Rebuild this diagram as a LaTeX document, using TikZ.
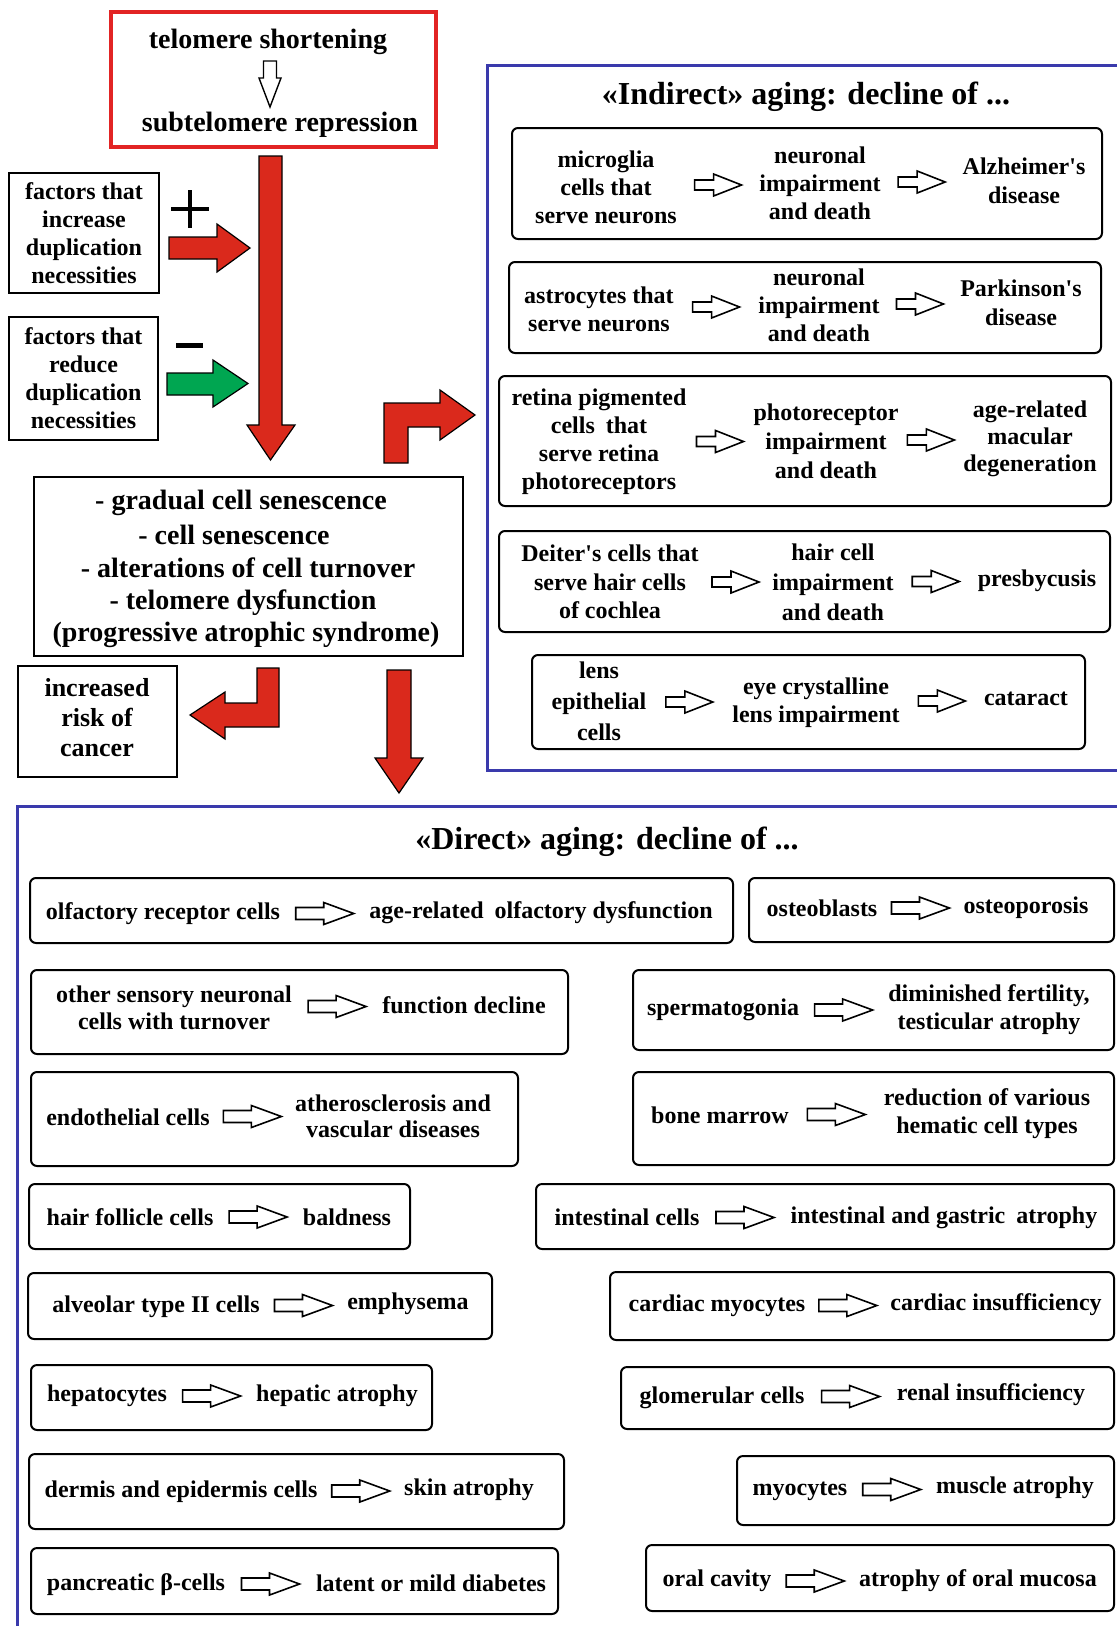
\documentclass[tikz,border=0pt]{standalone}
\usepackage{fontspec}
\setmainfont{Liberation Serif}
\usetikzlibrary{fit,calc}
\definecolor{arrred}{RGB}{218,41,28}
\definecolor{frred}{RGB}{226,36,36}
\definecolor{arrgreen}{RGB}{0,166,81}
\definecolor{frblue}{RGB}{58,58,172}
\begin{document}
\begin{tikzpicture}[x=1pt,y=-1pt,
  t24/.style={font=\bfseries\fontsize{24}{28}\selectfont, align=center, inner sep=0pt},
  t26/.style={font=\bfseries\fontsize{26}{30}\selectfont, align=center, inner sep=0pt},
  t28/.style={font=\bfseries\fontsize{28}{32}\selectfont, align=center, inner sep=0pt},
  ttl/.style={font=\bfseries\fontsize{32}{36}\selectfont, inner sep=0pt},
  rbox/.style={draw, line width=2pt, rounded corners=6pt, inner sep=0pt},
  sbox/.style={draw, line width=2pt, inner sep=0pt},
  blueframe/.style={draw=frblue, line width=3pt},
  block/.style={draw=black, line width=1.2pt, line join=miter},
  hollow/.style={draw=black, line width=1.6pt, fill=white, line join=miter},
  harrD/.pic={\path[hollow] (-29,-6) -- (-1,-6) -- (-1,-11) -- (29,0) -- (-1,11) -- (-1,6) -- (-29,6) -- cycle;},
  harrI/.pic={\path[hollow] (-23.5,-5) -- (-4.5,-5) -- (-4.5,-11) -- (23.5,0) -- (-4.5,11) -- (-4.5,5) -- (-23.5,5) -- cycle;},
]
\useasboundingbox (0,0) rectangle (1117,1626);
\fill[white] (0,0) rectangle (1117,1626);
\clip (0,0) rectangle (1117,1626);

% ---------- top box ----------
\node[draw=frred, line width=4pt, inner sep=0pt, fit={(111,12) (436,147)}] (top) {};
\node[t28] (ts) at (268,42) {telomere shortening};
\node[t28] (sr) at (280,125) {subtelomere repression};
\path[hollow, line width=1.4pt] (263.5,61) -- (276.5,61) -- (276.5,78) -- (281,78) -- (270,107) -- (259,78) -- (263.5,78) -- cycle;

% ---------- factor boxes ----------
\node[sbox, t24, minimum width=150pt, minimum height=120pt] (f1) at (84,233) {factors that\\increase\\duplication\\necessities};
\node[sbox, t24, minimum width=149pt, minimum height=123pt] (f2) at (83.5,378.5) {factors that\\reduce\\duplication\\necessities};
\draw[line width=4pt] (171,209) -- (209,209) (190,190) -- (190,228);
\draw[line width=5pt] (176,345) -- (203,345);

% ---------- block arrows ----------
\path[block, fill=arrred] (259,156) -- (282,156) -- (282,425) -- (295,425) -- (270.5,460) -- (247,425) -- (259,425) -- cycle;
\path[block, fill=arrred] (169,237) -- (217,237) -- (217,224) -- (250,248) -- (217,272) -- (217,259) -- (169,259) -- cycle;
\path[block, fill=arrgreen] (167,373) -- (213,373) -- (213,360) -- (248,383.5) -- (213,407) -- (213,395) -- (167,395) -- cycle;
\path[block, fill=arrred] (384,463) -- (384,403) -- (440,403) -- (440,390) -- (475,415) -- (440,440) -- (440,427) -- (408,427) -- (408,463) -- cycle;
\path[block, fill=arrred] (257,668) -- (279,668) -- (279,727) -- (225,727) -- (225,739) -- (190,715) -- (225,692) -- (225,703) -- (257,703) -- cycle;
\path[block, fill=arrred] (387,670) -- (411,670) -- (411,758) -- (423,758) -- (399,793) -- (375,758) -- (387,758) -- cycle;

% ---------- middle box ----------
\node[sbox, minimum width=429pt, minimum height=179pt] (mid) at (248.5,566.5) {};
\node[t28] (m1) at (241,503) {- gradual cell senescence};
\node[t28] (m2) at (234,535) {- cell senescence};
\node[t28] (m3) at (248,568) {- alterations of cell turnover};
\node[t28] (m4) at (243,603) {- telomere dysfunction};
\node[t28] (m5) at (246,635) {(progressive atrophic syndrome)};

% ---------- cancer box ----------
\node[sbox, minimum width=159pt, minimum height=111pt] (canc) at (97.5,721.5) {};
\node[t26] (canct) at (97,718) {increased\\risk of\\cancer};

% ---------- indirect frame ----------
\draw[blueframe] (487,65) rectangle (1140,770);
\node[ttl] (ind) at (806,97) {«Indirect» aging: decline of ...};

\node[rbox, fit={(512,128) (1102,239)}] (i1) {};
\node[t24] (i1a) at (606,187) {microglia\\cells that\\serve neurons};
\node[t24] (i1b) at (820,183) {neuronal\\impairment\\and death};
\node[t24, font=\bfseries\fontsize{24}{29}\selectfont] (i1c) at (1024,181) {Alzheimer\textquotesingle s\\disease};
\pic at ($(i1a.east)!0.5!(i1b.west)$) {harrI};
\pic at ($(i1b.east)!0.5!(i1c.west)$) {harrI};

\node[rbox, fit={(509,262) (1101,353)}] (i2) {};
\node[t24] (i2a) at (599,309) {astrocytes that\\serve neurons};
\node[t24] (i2b) at (819,305) {neuronal\\impairment\\and death};
\node[t24, font=\bfseries\fontsize{24}{29}\selectfont] (i2c) at (1021,303) {Parkinson\textquotesingle s\\disease};
\pic at ($(i2a.east)!0.5!(i2b.west)$) {harrI};
\pic at ($(i2b.east)!0.5!(i2c.west)$) {harrI};

\node[rbox, fit={(499,376) (1111,506)}] (i3) {};
\node[t24] (i3a) at (599,442) {retina pigmented\\cells\hspace{5pt} that\\serve retina\\photoreceptors};
\node[t24, font=\bfseries\fontsize{24}{29}\selectfont] (i3b) at (826,441) {photoreceptor\\impairment\\and death};
\node[t24, font=\bfseries\fontsize{24}{27}\selectfont] (i3c) at (1030,439) {age-related\\macular\\degeneration};
\pic at ($(i3a.east)!0.5!(i3b.west)$) {harrI};
\pic at ($(i3b.east)!0.5!(i3c.west)$) {harrI};

\node[rbox, fit={(499,531) (1110,632)}] (i4) {};
\node[t24, font=\bfseries\fontsize{24}{28.5}\selectfont] (i4a) at (610,582) {Deiter\textquotesingle s cells that\\serve hair cells\\of cochlea};
\node[t24, font=\bfseries\fontsize{24}{30}\selectfont] (i4b) at (833,582) {hair cell\\impairment\\and death};
\node[t24] (i4c) at (1037,581) {presbycusis};
\pic at ($(i4a.east)!0.5!(i4b.west)$) {harrI};
\pic at ($(i4b.east)!0.5!(i4c.west)$) {harrI};

\node[rbox, fit={(532,655) (1085,749)}] (i5) {};
\node[t24, font=\bfseries\fontsize{24}{31}\selectfont] (i5a) at (599,701) {lens\\epithelial\\cells};
\node[t24] (i5b) at (816,703) {eye crystalline\\lens impairment};
\node[t24] (i5c) at (1026,699) {cataract};
\pic at ($(i5a.east)!0.5!(i5b.west)$) {harrI};
\pic at ($(i5b.east)!0.5!(i5c.west)$) {harrI};

% ---------- direct frame ----------
\draw[blueframe] (17,806) rectangle (1140,1640);
\node[ttl] (dir) at (607,842) {«Direct» aging: decline of ...};

\node[rbox, fit={(30,878) (733,943)}] (d1) {};
\node[t24] (d1a) at (163,914) {olfactory receptor cells};
\node[t24] (d1b) at (541,913) {age-related\hspace{5pt} olfactory dysfunction};
\pic at ($(d1a.east)!0.5!(d1b.west)$) {harrD};

\node[rbox, fit={(749,878) (1114,942)}] (d2) {};
\node[t24] (d2a) at (822,908) {osteoblasts};
\node[t24] (d2b) at (1026,908) {osteoporosis};
\pic at ($(d2a.east)!0.5!(d2b.west)$) {harrD};

\node[rbox, fit={(31,970) (568,1054)}] (d3) {};
\node[t24, font=\bfseries\fontsize{24}{27}\selectfont] (d3a) at (174,1008) {other sensory neuronal\\cells with turnover};
\node[t24] (d3b) at (464,1005) {function decline};
\pic at ($(d3a.east)!0.5!(d3b.west)$) {harrD};

\node[rbox, fit={(633,970) (1114,1050)}] (d4) {};
\node[t24] (d4a) at (723,1010) {spermatogonia};
\node[t24] (d4b) at (989,1010) {diminished fertility,\\testicular atrophy};
\pic at ($(d4a.east)!0.5!(d4b.west)$) {harrD};

\node[rbox, fit={(31,1072) (518,1166)}] (d5) {};
\node[t24] (d5a) at (128,1117) {endothelial cells};
\node[t24, font=\bfseries\fontsize{24}{26}\selectfont] (d5b) at (393,1116) {atherosclerosis and\\vascular diseases};
\pic at ($(d5a.east)!0.5!(d5b.west)$) {harrD};

\node[rbox, fit={(633,1072) (1114,1165)}] (d6) {};
\node[t24] (d6a) at (720,1115) {bone marrow};
\node[t24] (d6b) at (987,1114) {reduction of various\\hematic cell types};
\pic at ($(d6a.east)!0.5!(d6b.west)$) {harrD};

\node[rbox, fit={(29,1184) (410,1249)}] (d7) {};
\node[t24] (d7a) at (130,1217) {hair follicle cells};
\node[t24] (d7b) at (347,1217) {baldness};
\pic at ($(d7a.east)!0.5!(d7b.west)$) {harrD};

\node[rbox, fit={(536,1184) (1114,1249)}] (d8) {};
\node[t24] (d8a) at (627,1217) {intestinal cells};
\node[t24] (d8b) at (944,1218) {intestinal and gastric\hspace{5pt} atrophy};
\pic at ($(d8a.east)!0.5!(d8b.west)$) {harrD};

\node[rbox, fit={(28,1273) (492,1339)}] (d9) {};
\node[t24] (d9a) at (156,1307) {alveolar type II cells};
\node[t24] (d9b) at (408,1304) {emphysema};
\pic at ($(d9a.east)!0.5!(d9b.west)$) {harrD};

\node[rbox, fit={(610,1272) (1114,1340)}] (d10) {};
\node[t24] (d10a) at (717,1306) {cardiac myocytes};
\node[t24] (d10b) at (996,1305) {cardiac insufficiency};
\pic at ($(d10a.east)!0.5!(d10b.west)$) {harrD};

\node[rbox, fit={(31,1365) (432,1430)}] (d11) {};
\node[t24] (d11a) at (107,1396) {hepatocytes};
\node[t24] (d11b) at (337,1396) {hepatic atrophy};
\pic at ($(d11a.east)!0.5!(d11b.west)$) {harrD};

\node[rbox, fit={(621,1367) (1114,1429)}] (d12) {};
\node[t24] (d12a) at (722,1398) {glomerular cells};
\node[t24] (d12b) at (991,1395) {renal insufficiency};
\pic at ($(d12a.east)!0.5!(d12b.west)$) {harrD};

\node[rbox, fit={(29,1454) (564,1529)}] (d13) {};
\node[t24] (d13a) at (181,1492) {dermis and epidermis cells};
\node[t24] (d13b) at (469,1490) {skin atrophy};
\pic at ($(d13a.east)!0.5!(d13b.west)$) {harrD};

\node[rbox, fit={(737,1456) (1114,1525)}] (d14) {};
\node[t24] (d14a) at (800,1491) {myocytes};
\node[t24] (d14b) at (1015,1488) {muscle atrophy};
\pic at ($(d14a.east)!0.5!(d14b.west)$) {harrD};

\node[rbox, fit={(31,1548) (558,1614)}] (d15) {};
\node[t24] (d15a) at (136,1585) {pancreatic β-cells};
\node[t24] (d15b) at (431,1583) {latent or mild diabetes};
\pic at ($(d15a.east)!0.5!(d15b.west)$) {harrD};

\node[rbox, fit={(646,1545) (1114,1611)}] (d16) {};
\node[t24] (d16a) at (717,1581) {oral cavity};
\node[t24] (d16b) at (978,1581) {atrophy of oral mucosa};
\pic at ($(d16a.east)!0.5!(d16b.west)$) {harrD};
\end{tikzpicture}
\end{document}
